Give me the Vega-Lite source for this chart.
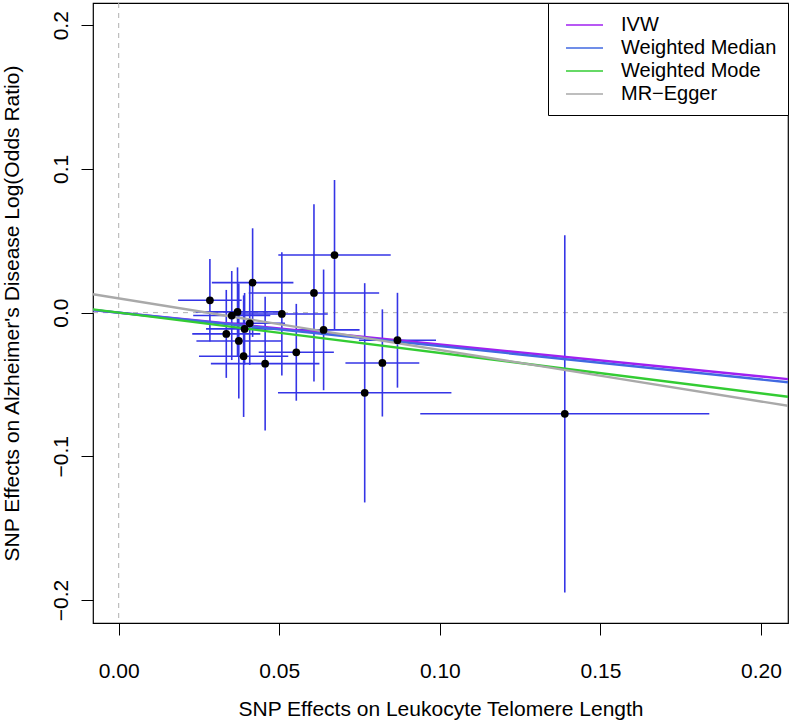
{
  "$schema": "https://vega.github.io/schema/vega-lite/v6.json",
  "width": 695,
  "height": 620,
  "autosize": {"type": "none"},
  "padding": {"left": 93, "top": 3, "right": 2, "bottom": 99},
  "background": "white",
  "config": {
    "view": {"stroke": "black", "strokeWidth": 1.2},
    "font": "Liberation Sans",
    "axis": {
      "grid": false,
      "domain": false,
      "tickColor": "black",
      "tickSize": 12,
      "tickWidth": 1,
      "labelColor": "black",
      "labelFont": "Liberation Sans",
      "labelFontSize": 21,
      "titleFont": "Liberation Sans",
      "titleFontSize": 21,
      "titleFontWeight": "normal",
      "titleColor": "black"
    },
    "legend": {
      "orient": "top-right",
      "offset": 0,
      "strokeColor": "black",
      "strokeWidth": 1,
      "fillColor": "white",
      "padding": 11,
      "labelFont": "Liberation Sans",
      "labelFontSize": 20,
      "labelColor": "black",
      "labelOffset": 40,
      "rowPadding": 2,
      "symbolType": "M-0.4,0H3.3",
      "symbolSize": 400,
      "symbolStrokeWidth": 1.5
    }
  },
  "datasets": {
    "snps": [
      {"bx": 0.0284, "by": 0.0086, "bxlo": 0.0185, "bxhi": 0.0383, "bylo": -0.0201, "byhi": 0.0373},
      {"bx": 0.0417, "by": 0.0209, "bxlo": 0.0290, "bxhi": 0.0544, "bylo": -0.0169, "byhi": 0.0587},
      {"bx": 0.0370, "by": 0.0005, "bxlo": 0.0240, "bxhi": 0.0500, "bylo": -0.0305, "byhi": 0.0315},
      {"bx": 0.0352, "by": -0.0020, "bxlo": 0.0232, "bxhi": 0.0472, "bylo": -0.0330, "byhi": 0.0290},
      {"bx": 0.0508, "by": -0.0009, "bxlo": 0.0365, "bxhi": 0.0651, "bylo": -0.0438, "byhi": 0.0420},
      {"bx": 0.0408, "by": -0.0074, "bxlo": 0.0298, "bxhi": 0.0518, "bylo": -0.0364, "byhi": 0.0216},
      {"bx": 0.0392, "by": -0.0113, "bxlo": 0.0272, "bxhi": 0.0512, "bylo": -0.0363, "byhi": 0.0137},
      {"bx": 0.0335, "by": -0.0148, "bxlo": 0.0229, "bxhi": 0.0441, "bylo": -0.0454, "byhi": 0.0158},
      {"bx": 0.0374, "by": -0.0197, "bxlo": 0.0242, "bxhi": 0.0506, "bylo": -0.0597, "byhi": 0.0203},
      {"bx": 0.0389, "by": -0.0303, "bxlo": 0.0250, "bxhi": 0.0528, "bylo": -0.0726, "byhi": 0.0120},
      {"bx": 0.0456, "by": -0.0355, "bxlo": 0.0287, "bxhi": 0.0625, "bylo": -0.0821, "byhi": 0.0111},
      {"bx": 0.0553, "by": -0.0276, "bxlo": 0.0436, "bxhi": 0.0670, "bylo": -0.0613, "byhi": 0.0061},
      {"bx": 0.0672, "by": 0.0401, "bxlo": 0.0497, "bxhi": 0.0847, "bylo": -0.0121, "byhi": 0.0923},
      {"bx": 0.0608, "by": 0.0137, "bxlo": 0.0405, "bxhi": 0.0811, "bylo": -0.0480, "byhi": 0.0754},
      {"bx": 0.0638, "by": -0.0120, "bxlo": 0.0526, "bxhi": 0.0750, "bylo": -0.0540, "byhi": 0.0300},
      {"bx": 0.0868, "by": -0.0192, "bxlo": 0.0748, "bxhi": 0.0988, "bylo": -0.0522, "byhi": 0.0138},
      {"bx": 0.0821, "by": -0.0350, "bxlo": 0.0706, "bxhi": 0.0936, "bylo": -0.0723, "byhi": 0.0023},
      {"bx": 0.0766, "by": -0.0558, "bxlo": 0.0496, "bxhi": 0.1036, "bylo": -0.1321, "byhi": 0.0205},
      {"bx": 0.1389, "by": -0.0704, "bxlo": 0.0939, "bxhi": 0.1839, "bylo": -0.1947, "byhi": 0.0539}
    ],
    "fits": [
      {"method": "IVW", "bx": -0.008, "by": 0.00178},
      {"method": "IVW", "bx": 0.2084, "by": -0.04626},
      {"method": "Weighted Median", "bx": -0.008, "by": 0.00186},
      {"method": "Weighted Median", "bx": 0.2084, "by": -0.0485},
      {"method": "Weighted Mode", "bx": -0.008, "by": 0.00225},
      {"method": "Weighted Mode", "bx": 0.2084, "by": -0.05856},
      {"method": "MR−Egger", "bx": -0.008, "by": 0.0128},
      {"method": "MR−Egger", "bx": 0.2084, "by": -0.06484}
    ]
  },
  "layer": [
    {
      "data": {"values": [{"ref": 0}]},
      "mark": {"type": "rule", "color": "#b0b0b0", "strokeDash": [5, 5], "strokeWidth": 1},
      "encoding": {"x": {"field": "ref", "type": "quantitative", "scale": {"domain": [-0.008, 0.2084], "nice": false, "zero": false}}}
    },
    {
      "data": {"values": [{"ref": 0}]},
      "mark": {"type": "rule", "color": "#b0b0b0", "strokeDash": [5, 5], "strokeWidth": 1},
      "encoding": {"y": {"field": "ref", "type": "quantitative", "scale": {"domain": [-0.216, 0.2155], "nice": false, "zero": false}}}
    },
    {
      "data": {"name": "snps"},
      "mark": {"type": "rule", "color": "#3535e6", "strokeWidth": 1.6},
      "encoding": {
        "x": {"field": "bxlo", "type": "quantitative"},
        "x2": {"field": "bxhi"},
        "y": {"field": "by", "type": "quantitative"}
      }
    },
    {
      "data": {"name": "snps"},
      "mark": {"type": "rule", "color": "#3535e6", "strokeWidth": 1.6},
      "encoding": {
        "x": {"field": "bx", "type": "quantitative"},
        "y": {"field": "bylo", "type": "quantitative"},
        "y2": {"field": "byhi"}
      }
    },
    {
      "data": {"name": "fits"},
      "mark": {"type": "line", "strokeWidth": 2.4, "clip": true},
      "encoding": {
        "x": {"field": "bx", "type": "quantitative"},
        "y": {"field": "by", "type": "quantitative"},
        "color": {
          "field": "method",
          "type": "nominal",
          "scale": {
            "domain": ["IVW", "Weighted Median", "Weighted Mode", "MR−Egger"],
            "range": ["#a020f0", "#4169e1", "#33cc33", "#a9a9a9"]
          },
          "legend": {"title": null}
        },
        "order": {"field": "bx", "type": "quantitative"}
      }
    },
    {
      "data": {"name": "snps"},
      "mark": {"type": "point", "shape": "circle", "filled": true, "color": "black", "opacity": 1, "size": 60},
      "encoding": {
        "x": {
          "field": "bx",
          "type": "quantitative",
          "axis": {
            "title": "SNP Effects on Leukocyte Telomere Length",
            "values": [0, 0.05, 0.1, 0.15, 0.2],
            "format": ".2f",
            "labelPadding": 25,
            "titlePadding": 17
          }
        },
        "y": {
          "field": "by",
          "type": "quantitative",
          "axis": {
            "title": "SNP Effects on Alzheimer's Disease Log(Odds Ratio)",
            "values": [-0.2, -0.1, 0, 0.1, 0.2],
            "format": ".1f",
            "labelAngle": -90,
            "labelAlign": "center",
            "labelBaseline": "alphabetic",
            "labelPadding": 14,
            "titlePadding": 28
          }
        }
      }
    }
  ],
  "resolve": {"scale": {"x": "shared", "y": "shared"}}
}
